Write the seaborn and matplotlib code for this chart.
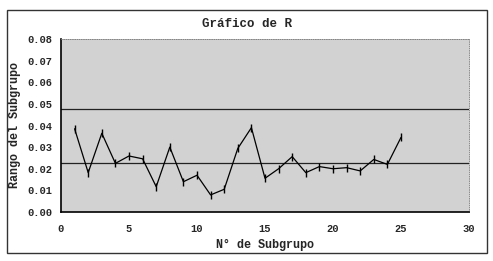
import matplotlib
matplotlib.use("Agg")
import matplotlib.pyplot as plt
import seaborn as sns
import pandas as pd
import numpy as np
from matplotlib.patches import Rectangle

subgroups = list(range(1, 26))
ranges = [0.0385, 0.0182, 0.0364, 0.0225, 0.0259, 0.0246, 0.0117, 0.0300, 0.0140, 0.0170,
          0.0079, 0.0105, 0.0294, 0.0390, 0.0156, 0.0200, 0.0256, 0.0182, 0.0210, 0.0200,
          0.0205, 0.0190, 0.0243, 0.0220, 0.0345]
center_line = 0.0225
ucl = 0.0476
x_ticks = [0, 5, 10, 15, 20, 25, 30]
y_ticks = [0.00, 0.01, 0.02, 0.03, 0.04, 0.05, 0.06, 0.07, 0.08]

df = pd.DataFrame({"Subgrupo": subgroups, "Rango": ranges})

sns.set_theme(style="white")
plt.rcParams['font.family'] = ['Liberation Mono', 'DejaVu Sans Mono']
plt.rcParams['font.weight'] = 'bold'

fig = plt.figure(figsize=(4.93, 2.61), dpi=100)
fig.patch.set_facecolor("white")
ax = fig.add_axes([61/493, 49/261, 408/493, 173/261])
ax.set_facecolor("#d2d2d2")

# outer border
fig.patches.append(Rectangle((7/493, 8/261), 480/493, 243/261, transform=fig.transFigure,
                             fill=False, edgecolor="#333333", linewidth=1.0))

ax.axhline(ucl, color="#222222", linewidth=0.9)
ax.axhline(center_line, color="#222222", linewidth=0.9)

sns.lineplot(data=df, x="Subgrupo", y="Rango", ax=ax, color="black", linewidth=0.9,
             marker="|", markersize=6, markeredgewidth=1.0, markeredgecolor="black")

ax.set_xlim(0, 30)
ax.set_ylim(0, 0.08)
ax.set_xticks(x_ticks)
ax.set_yticks(y_ticks)
ax.set_xticklabels([str(t) for t in x_ticks], fontsize=7.5, fontweight='bold')
ax.set_yticklabels([f"{t:.2f}" for t in y_ticks], fontsize=7.5, fontweight='bold')
ax.tick_params(axis='both', direction='out', length=3, width=0.8, color='black', pad=3)
ax.tick_params(axis='x', pad=6)

for s in ["left", "bottom"]:
    ax.spines[s].set_color("black")
    ax.spines[s].set_linewidth(1.2)
for s in ["top", "right"]:
    ax.spines[s].set_color("#777777")
    ax.spines[s].set_linewidth(0.6)
    ax.spines[s].set_linestyle(":")

ax.set_xlabel("N° de Subgrupo", fontsize=8.5, fontweight='bold', labelpad=3)
ax.set_ylabel("Rango del Subgrupo", fontsize=8.5, fontweight='bold', labelpad=5)
fig.text(0.5, 1 - 24/261, "Gráfico de R", ha="center", va="center", fontsize=9, fontweight='bold')

fig.savefig("out.png", dpi=100)
